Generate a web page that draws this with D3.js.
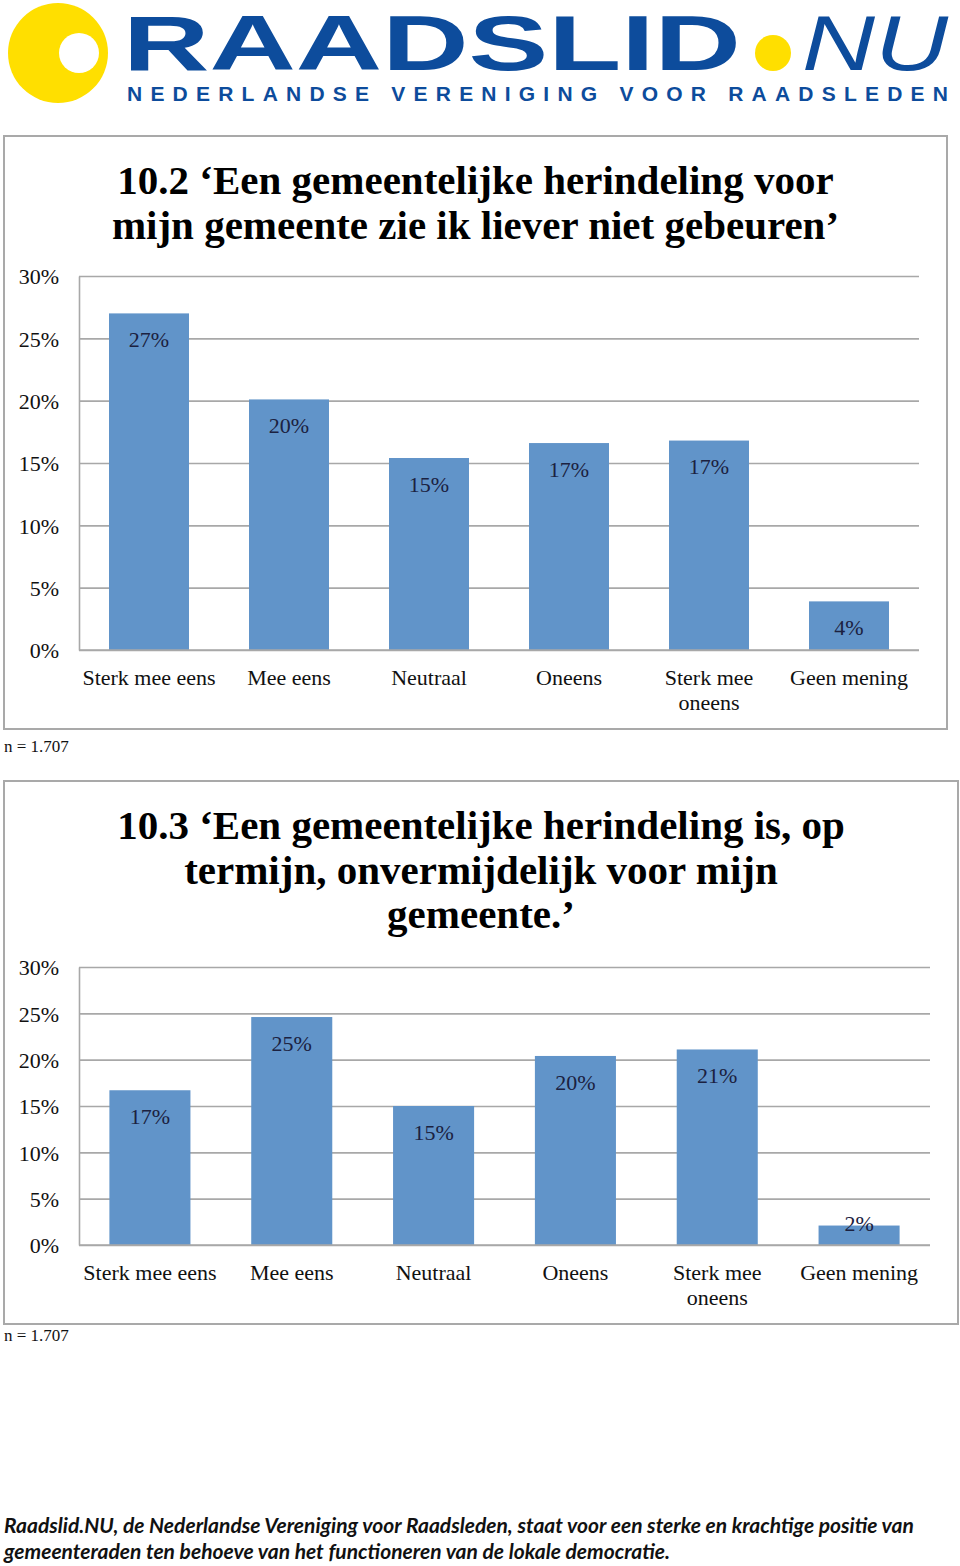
<!DOCTYPE html>
<html>
<head>
<meta charset="utf-8">
<script src="https://cdn.jsdelivr.net/npm/d3@7"></script>
<style>
  html, body { margin: 0; padding: 0; background: #ffffff; }
  svg { display: block; }
</style>
</head>
<body>
<svg id="page" width="960" height="1566"></svg>
<script>
// ---------------- DATA ----------------
const categories = ["Sterk mee eens", "Mee eens", "Neutraal", "Oneens", "Sterk mee\noneens", "Geen mening"];
const values102 = [27.0, 20.1, 15.4, 16.6, 16.8, 3.9];
const values103 = [16.7, 24.6, 15.0, 20.4, 21.1, 2.1];
const yTicks = [0, 5, 10, 15, 20, 25, 30];
const title102 = ["10.2 \u2018Een gemeentelijke herindeling voor", "mijn gemeente zie ik liever niet gebeuren\u2019"];
const title103 = ["10.3 \u2018Een gemeentelijke herindeling is, op", "termijn, onvermijdelijk voor mijn", "gemeente.\u2019"];
const sampleNote = "n = 1.707";
const footerLines = [
  "Raadslid.NU, de Nederlandse Vereniging voor Raadsleden, staat voor een sterke en krachtige positie van",
  "gemeenteraden ten behoeve van het functioneren van de lokale democratie."
];
const logoMain = "RAADSLID";
const logoNU = "NU";
const logoSub = "NEDERLANDSE VERENIGING VOOR RAADSLEDEN";

// ---------------- STYLE ----------------
const serif = "'Liberation Serif', 'Times New Roman', serif";
const barColor = "#6194c9";
const gridColor = "#a8a8a8";
const frameColor = "#a9a9a9";
const logoBlue = "#0d4c9c";
const logoYellow = "#ffdf00";

const svg = d3.select("#page");
svg.append("rect").attr("width", 960).attr("height", 1566).attr("fill", "#fff");

// ---------------- LOGO ----------------
const logo = svg.append("g");
logo.append("circle").attr("cx", 58).attr("cy", 53).attr("r", 50).attr("fill", logoYellow);
logo.append("ellipse").attr("cx", 79).attr("cy", 53).attr("rx", 20).attr("ry", 20).attr("fill", "#fff");
logo.append("text").attr("x", 123).attr("y", 70)
  .attr("font-family", "'Liberation Sans', Arial, sans-serif").attr("font-weight", "bold")
  .attr("font-size", 78).attr("fill", logoBlue)
  .attr("textLength", 618).attr("lengthAdjust", "spacingAndGlyphs").text(logoMain);
logo.append("ellipse").attr("cx", 773).attr("cy", 53).attr("rx", 18).attr("ry", 18).attr("fill", logoYellow);
logo.append("text").attr("x", 802).attr("y", 70)
  .attr("font-family", "'Liberation Sans', Arial, sans-serif").attr("font-style", "italic")
  .attr("font-size", 78).attr("fill", logoBlue)
  .attr("textLength", 146).attr("lengthAdjust", "spacingAndGlyphs").text(logoNU);
logo.append("text").attr("x", 127).attr("y", 101)
  .attr("font-family", "'Liberation Sans', Arial, sans-serif").attr("font-weight", "bold")
  .attr("font-size", 21).attr("fill", logoBlue)
  .attr("textLength", 821).attr("lengthAdjust", "spacing").text(logoSub);

// ---------------- CHART FUNCTION ----------------
function drawChart(cfg) {
  const g = svg.append("g");
  // frame
  g.append("rect")
    .attr("x", cfg.frame[0]).attr("y", cfg.frame[1])
    .attr("width", cfg.frame[2] - cfg.frame[0]).attr("height", cfg.frame[3] - cfg.frame[1])
    .attr("fill", "#fff").attr("stroke", frameColor).attr("stroke-width", 2);

  // title
  const cx = (cfg.frame[0] + cfg.frame[2]) / 2;
  g.append("g").selectAll("text").data(cfg.title).join("text")
    .attr("x", cx).attr("y", (d, i) => cfg.titleY + i * 44.5)
    .attr("text-anchor", "middle")
    .attr("font-family", serif).attr("font-weight", "bold").attr("font-size", 41)
    .attr("fill", "#000").text(d => d);

  const x = d3.scaleBand().domain(categories).range([cfg.plot[0], cfg.plot[1]])
    .paddingInner(60 / 140).paddingOuter(30 / 140);
  const y = d3.scaleLinear().domain([0, 30]).range([cfg.plot[3], cfg.plot[2]]);
  const w = cfg.plot[1] - cfg.plot[0];

  const axis = d3.axisLeft(y).tickValues(yTicks).tickSize(-w).tickSizeOuter(0)
    .tickPadding(20).tickFormat(d => d + "%");
  const ag = g.append("g").attr("transform", `translate(${cfg.plot[0]},0)`).call(axis);
  ag.selectAll(".tick line").attr("stroke", gridColor).attr("stroke-width", 1.6);
  ag.select(".domain").attr("stroke", gridColor).attr("stroke-width", 1.6);
  ag.selectAll(".tick text").attr("font-family", serif).attr("font-size", 22)
    .attr("fill", "#111").attr("dy", "0.36em");

  // bars
  g.append("g").selectAll("rect").data(cfg.values).join("rect")
    .attr("x", (d, i) => x(categories[i]))
    .attr("y", d => y(d))
    .attr("width", x.bandwidth())
    .attr("height", d => y(0) - y(d))
    .attr("fill", barColor);

  // redraw baseline on top
  g.append("line").attr("x1", cfg.plot[0]).attr("x2", cfg.plot[1])
    .attr("y1", y(0)).attr("y2", y(0)).attr("stroke", gridColor).attr("stroke-width", 1.6);

  // value labels
  const fmt = d3.format(".0%");
  g.append("g").selectAll("text").data(cfg.values).join("text")
    .attr("x", (d, i) => x(categories[i]) + x.bandwidth() / 2)
    .attr("y", d => Math.min(y(d) + 26, y(0) - 22))
    .attr("dy", "0.36em")
    .attr("text-anchor", "middle")
    .attr("font-family", serif).attr("font-size", 22).attr("fill", "#1b2140")
    .text(d => fmt(d / 100));

  // category labels
  const cl = g.append("g").selectAll("text").data(categories).join("text")
    .attr("text-anchor", "middle")
    .attr("font-family", serif).attr("font-size", 22).attr("fill", "#111");
  cl.each(function (c) {
    const t = d3.select(this);
    c.split("\n").forEach((line, i) => {
      t.append("tspan")
        .attr("x", x(c) + x.bandwidth() / 2)
        .attr("y", y(0) + 35 + i * 25)
        .text(line);
    });
  });

  // sample size note
  g.append("text").attr("x", 4).attr("y", cfg.noteY)
    .attr("font-family", serif).attr("font-size", 17).attr("fill", "#111").text(sampleNote);
}

drawChart({
  frame: [4, 136, 947, 729],
  plot: [79, 919, 276, 650],
  title: title102, titleY: 194,
  values: values102, noteY: 752
});

drawChart({
  frame: [4, 781, 958, 1324],
  plot: [79, 930, 967, 1245],
  title: title103, titleY: 839,
  values: values103, noteY: 1341
});

// ---------------- FOOTER ----------------
const ft = svg.append("g").selectAll("text").data(footerLines).join("text")
  .attr("x", 4).attr("y", (d, i) => 1533 + i * 26)
  .attr("font-family", "Lato, 'Open Sans', sans-serif")
  .attr("font-weight", "bold").attr("font-style", "italic")
  .attr("font-size", 19).attr("fill", "#111").text(d => d);
// fit first line to target width
const w0 = ft.nodes()[0].getComputedTextLength();
const fs = 19 * 910 / w0;
ft.attr("font-size", fs);
</script>
</body>
</html>
